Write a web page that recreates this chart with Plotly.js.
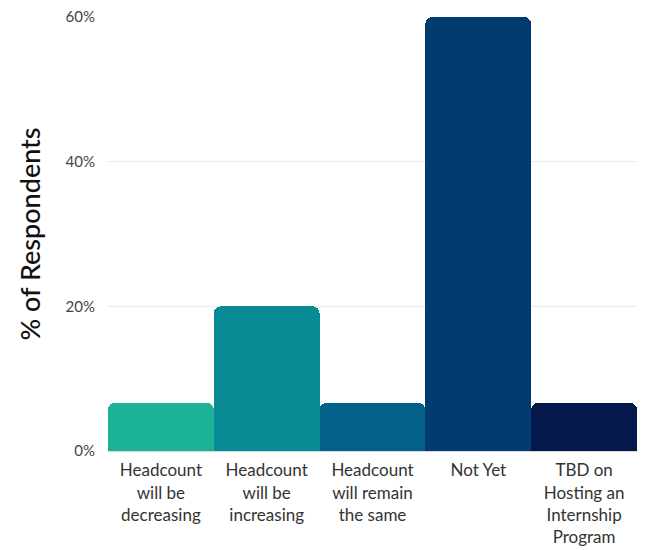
<!DOCTYPE html>
<html>
<head>
<meta charset="utf-8">
<script src="https://cdn.plot.ly/plotly-3.0.1.min.js"></script>
<style>html,body{margin:0;padding:0;background:#fff;}#chart{width:647px;height:550px;}</style>
</head>
<body>
<div id="chart"></div>
<script>
const categories = [
  "Headcount<br>will be<br>decreasing",
  "Headcount<br>will be<br>increasing",
  "Headcount<br>will remain<br>the same",
  "Not Yet",
  "TBD on<br>Hosting an<br>Internship<br>Program"
];
const values = [6.67, 20, 6.67, 60, 6.67];
const barColors = ["#1bb296", "#078a93", "#036088", "#033b70", "#03194b"];
const yTicks = [0, 20, 40, 60];
const yTickText = ["0%", "20%", "40%", "60%"];

const trace = {
  type: "bar",
  x: categories,
  y: values,
  marker: { color: barColors, cornerradius: 7, line: { width: 0 } },
  hoverinfo: "skip"
};

const layout = {
  width: 647, height: 550,
  margin: { l: 108, r: 10, t: 17, b: 99 },
  paper_bgcolor: "#fff", plot_bgcolor: "#fff",
  bargap: 0,
  showlegend: false,
  font: { family: "Lato, 'Open Sans', sans-serif", color: "#333" },
  xaxis: {
    type: "category",
    tickfont: { size: 17, color: "#333" },
    showgrid: false, zeroline: false,
    showline: true, linecolor: "#d8d8d8", linewidth: 1,
    ticks: "", ticklabelstandoff: 4
  },
  yaxis: {
    range: [0, 60],
    tickmode: "array",
    tickvals: yTicks,
    ticktext: yTickText,
    tickfont: { size: 15, color: "#444" },
    showgrid: true, gridcolor: "#ebebeb", gridwidth: 1,
    zeroline: false, ticks: "", ticklabelstandoff: 12,
    title: { text: "% of Respondents", font: { size: 27, color: "#111", weight: 500 }, standoff: 17 }
  }
};

Plotly.newPlot("chart", [trace], layout, { displayModeBar: false, staticPlot: true });
</script>
</body>
</html>
